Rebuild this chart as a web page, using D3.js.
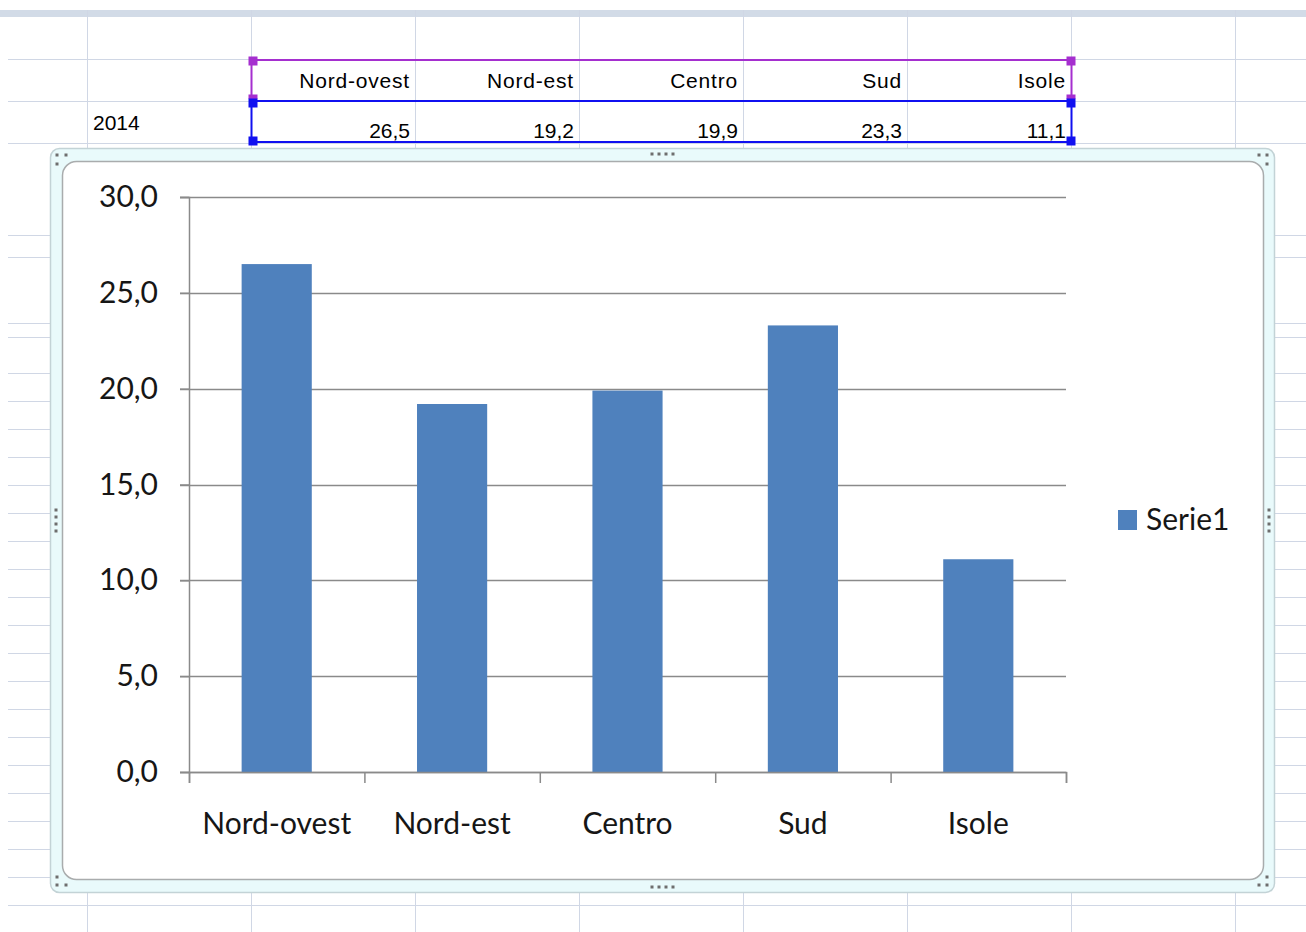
<!DOCTYPE html>
<html>
<head>
<meta charset="utf-8">
<script src="https://cdn.jsdelivr.net/npm/d3@7"></script>
<style>
  html, body { margin: 0; padding: 0; background: #fff; }
  svg { display: block; }
</style>
</head>
<body>
<svg id="sheet"></svg>
<script>
// data
const regions = ['Nord-ovest', 'Nord-est', 'Centro', 'Sud', 'Isole']
const values2014 = [26.5, 19.2, 19.9, 23.3, 11.1]
const yearLabel = '2014'
const seriesName = 'Serie1'
const yTicks = [0, 5, 10, 15, 20, 25, 30]

const width = 1306
const height = 932

const it = d3.formatLocale({ decimal: ',', thousands: '.', grouping: [3], currency: ['€', ''] })
const fmt = it.format('.1f')

const svg = d3.select('#sheet')
  .attr('width', width)
  .attr('height', height)
  .attr('viewBox', `0 0 ${width} ${height}`)

// ---- spreadsheet background ----
const GRID = '#d0d7e5'
const colLines = [87, 251, 415, 579, 743, 907, 1071, 1235]
const rowLines = [59, 101, 143, 235, 257, 323, 337].concat(d3.range(373, height, 28))

const sheet = svg.append('g').attr('class', 'sheet')

sheet.append('rect')
  .attr('x', 0).attr('y', 10)
  .attr('width', width).attr('height', 7)
  .attr('fill', '#d2dbe7')

sheet.selectAll('line.row')
  .data(rowLines)
  .enter()
  .append('line')
  .attr('class', 'row')
  .attr('x1', 8).attr('x2', width)
  .attr('y1', d => d + 0.5).attr('y2', d => d + 0.5)
  .attr('stroke', GRID)

sheet.selectAll('line.col')
  .data(colLines)
  .enter()
  .append('line')
  .attr('class', 'col')
  .attr('x1', d => d + 0.5).attr('x2', d => d + 0.5)
  .attr('y1', 10).attr('y2', height)
  .attr('stroke', GRID)

// cell table (header row + 2014 row)
const cellX = d3.scaleBand().domain(regions).range([251, 1071])
const cellFont = 'Liberation Sans, Arial, sans-serif'

sheet.selectAll('text.head')
  .data(regions)
  .enter()
  .append('text')
  .attr('class', 'head')
  .attr('x', d => cellX(d) + cellX.bandwidth() - 5)
  .attr('y', 88)
  .attr('text-anchor', 'end')
  .attr('font-family', cellFont)
  .attr('font-size', '21px')
  .attr('letter-spacing', '0.8px')
  .attr('fill', '#000')
  .text(d => d)

sheet.selectAll('text.val')
  .data(values2014)
  .enter()
  .append('text')
  .attr('class', 'val')
  .attr('x', (d, i) => cellX(regions[i]) + cellX.bandwidth() - 5)
  .attr('y', 138)
  .attr('text-anchor', 'end')
  .attr('font-family', cellFont)
  .attr('font-size', '21px')
  .attr('fill', '#000')
  .text(d => fmt(d))

sheet.append('text')
  .attr('x', 93)
  .attr('y', 130)
  .attr('font-family', cellFont)
  .attr('font-size', '21px')
  .attr('fill', '#000')
  .text(yearLabel)

// range finder boxes
const PURPLE = '#a52fcf'
const BLUE = '#1010f0'
sheet.append('rect')
  .attr('x', 251.5).attr('y', 60)
  .attr('width', 820).attr('height', 41)
  .attr('fill', 'none').attr('stroke', PURPLE).attr('stroke-width', 2)
sheet.append('rect')
  .attr('x', 251.5).attr('y', 101)
  .attr('width', 820).attr('height', 41)
  .attr('fill', 'none').attr('stroke', BLUE).attr('stroke-width', 2)

const handles = [
  [253, 61, PURPLE], [1071, 61, PURPLE],
  [253, 99, PURPLE], [1071, 99, PURPLE],
  [253, 103, BLUE], [1071, 103, BLUE],
  [253, 141, BLUE], [1071, 141, BLUE]
]
sheet.selectAll('rect.handle')
  .data(handles)
  .enter()
  .append('rect')
  .attr('class', 'handle')
  .attr('x', d => d[0] - 4.5)
  .attr('y', d => d[1] - 4.5)
  .attr('width', 9).attr('height', d => d[2] === PURPLE && d[1] === 99 ? 4.5 : 9)
  .attr('fill', d => d[2])

// ---- chart object ----
const chart = svg.append('g').attr('class', 'chart')

chart.append('rect')
  .attr('x', 50.5).attr('y', 148.5)
  .attr('width', 1224).attr('height', 744)
  .attr('rx', 9)
  .attr('fill', '#e9fafb')
  .attr('stroke', '#c3d3d6')
  .attr('stroke-width', 1.5)

chart.append('rect')
  .attr('x', 62.5).attr('y', 161.5)
  .attr('width', 1201).attr('height', 718)
  .attr('rx', 14)
  .attr('fill', '#fff')
  .attr('stroke', '#a9acad')
  .attr('stroke-width', 1.5)

// grip dots on the frame
const grips = [
  [57, 155], [66, 155], [57, 164],
  [1259, 155], [1267, 155], [1267, 164],
  [57, 877], [57, 885], [66, 885],
  [1267, 877], [1259, 885], [1267, 885],
  [652, 154], [659, 154], [666, 154], [673, 154],
  [652, 887], [659, 887], [666, 887], [673, 887],
  [56, 510], [56, 517], [56, 524], [56, 531],
  [1269, 510], [1269, 517], [1269, 524], [1269, 531]
]
chart.selectAll('rect.grip')
  .data(grips)
  .enter()
  .append('rect')
  .attr('class', 'grip')
  .attr('x', d => d[0] - 1.5)
  .attr('y', d => d[1] - 1.5)
  .attr('width', 3).attr('height', 3)
  .attr('fill', '#6e6e6e')

// ---- plot ----
const plotLeft = 189
const plotRight = 1066
const plotTop = 197
const plotBottom = 772
const AXIS = '#8a8a8a'
const BAR = '#4f81bd'
const TEXT = '#161616'
const chartFont = 'Lato, "Open Sans", sans-serif'

const y = d3.scaleLinear().domain([0, 30]).range([plotBottom, plotTop])
const x = d3.scaleBand()
  .domain(regions)
  .range([plotLeft, plotRight])
  .paddingInner(0.6)
  .paddingOuter(0.3)
const edge = d3.scaleLinear().domain([0, regions.length]).range([plotLeft, plotRight])

const plot = chart.append('g').attr('class', 'plot')

plot.append('g')
  .selectAll('line')
  .data(yTicks)
  .enter()
  .append('line')
  .attr('x1', plotLeft - 9).attr('x2', plotRight)
  .attr('y1', d => Math.round(y(d)) + 0.5).attr('y2', d => Math.round(y(d)) + 0.5)
  .attr('stroke', AXIS)
  .attr('stroke-width', 1.5)

plot.append('g')
  .selectAll('rect')
  .data(values2014)
  .enter()
  .append('rect')
  .attr('x', (d, i) => x(regions[i]))
  .attr('y', d => y(d))
  .attr('width', x.bandwidth())
  .attr('height', d => y(0) - y(d))
  .attr('fill', BAR)

const yAxis = plot.append('g')
  .attr('transform', `translate(${plotLeft},0)`)
  .call(d3.axisLeft(y).tickValues(yTicks).tickSize(9).tickPadding(22).tickFormat(fmt))
yAxis.select('.domain').attr('stroke', AXIS).attr('stroke-width', 1.5)
yAxis.selectAll('.tick line').attr('stroke', AXIS).attr('stroke-width', 1.5)
yAxis.selectAll('.tick text')
  .attr('font-family', chartFont)
  .attr('font-size', '30px')
  .attr('fill', TEXT)

const xAxis = plot.append('g')
  .attr('transform', `translate(0,${plotBottom})`)
  .call(d3.axisBottom(edge).ticks(regions.length).tickSize(11).tickSizeOuter(11).tickFormat(''))
xAxis.select('.domain').attr('stroke', AXIS).attr('stroke-width', 1.5)
xAxis.selectAll('.tick line').attr('stroke', AXIS).attr('stroke-width', 1.5)

plot.append('g')
  .selectAll('text')
  .data(regions)
  .enter()
  .append('text')
  .attr('x', d => x(d) + x.bandwidth() / 2)
  .attr('y', 834)
  .attr('text-anchor', 'middle')
  .attr('font-family', chartFont)
  .attr('font-size', '30px')
  .attr('fill', TEXT)
  .text(d => d)

// legend
const legend = chart.append('g').attr('transform', 'translate(1118,510)')
legend.append('rect')
  .attr('width', 19).attr('height', 20)
  .attr('fill', BAR)
legend.append('text')
  .attr('x', 28)
  .attr('y', 20)
  .attr('font-family', chartFont)
  .attr('font-size', '30px')
  .attr('fill', TEXT)
  .text(seriesName)
</script>
</body>
</html>
